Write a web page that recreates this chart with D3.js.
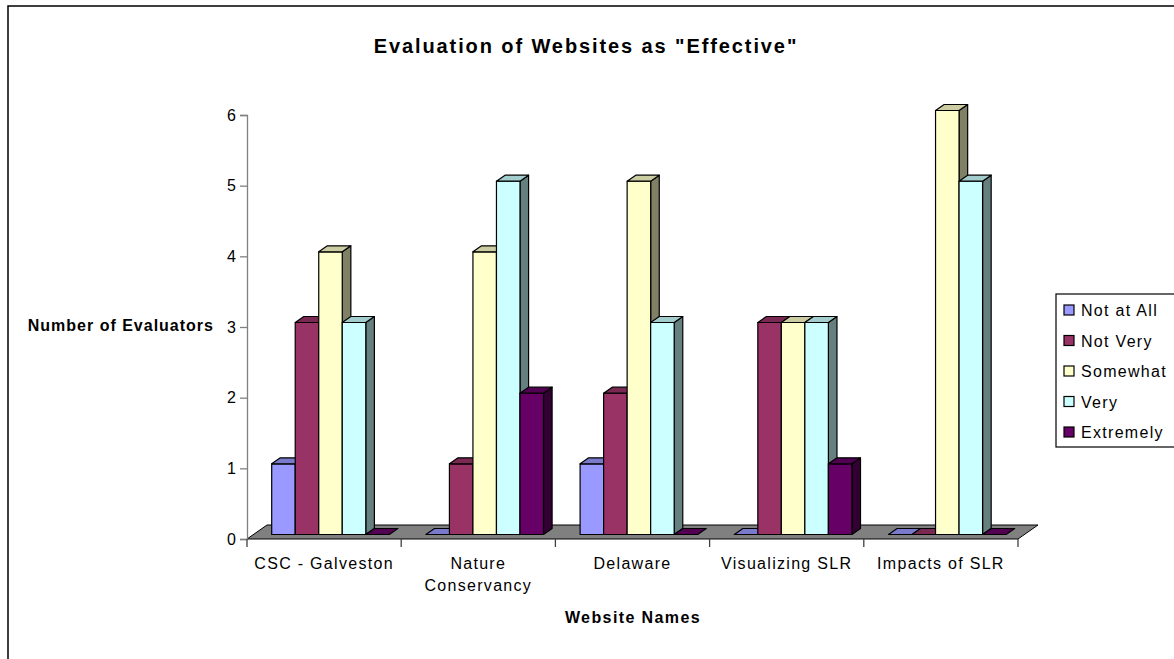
<!DOCTYPE html>
<html>
<head>
<meta charset="utf-8">
<script src="https://cdn.jsdelivr.net/npm/d3@7"></script>
<style>
  body { margin: 0; background: #fff; }
  svg { display: block; font-family: "Liberation Sans", Arial, sans-serif; }
</style>
</head>
<body>
<svg id="chart" width="1174" height="659"></svg>
<script>
// Websites rated, and the ratings given
const categories = ["CSC - Galveston", "Nature Conservancy", "Delaware", "Visualizing SLR", "Impacts of SLR"];
const categoryLines = [["CSC - Galveston"], ["Nature", "Conservancy"], ["Delaware"], ["Visualizing SLR"], ["Impacts of SLR"]];
const seriesNames = ["Not at All", "Not Very", "Somewhat", "Very", "Extremely"];
const seriesColors = ["#9999FF", "#993366", "#FFFFCC", "#CCFFFF", "#660066"];
// Evaluator counts per website, one array per rating level
const notAtAll  = [1, 0, 1, 0, 0];
const notVery   = [3, 1, 2, 3, 0];
const somewhat  = [4, 4, 5, 3, 6];
const very      = [3, 5, 3, 3, 5];
const extremely = [0, 2, 0, 1, 0];
const yTicks = [0, 1, 2, 3, 4, 5, 6];

const seriesValues = [notAtAll, notVery, somewhat, very, extremely];

const svg = d3.select("#chart");

// Outer chart border (runs off the right and bottom edges)
svg.append("rect")
  .attr("x", 8).attr("y", 6).attr("width", 1200).attr("height", 700)
  .attr("fill", "#fff").attr("stroke", "#000").attr("stroke-width", 1.5);

// Plot geometry
const x0 = 247, x1 = 1018, yBase = 539, yTop = 115;
const depthDx = 20, depthDy = -14;        // floor depth projection
const barFront = 0.32, barBack = 0.75;    // bar slab position within the depth

const x = d3.scaleBand().domain(categories).range([x0, x1]).padding(0);
const gap = 18.3;
const xs = d3.scaleBand().domain(seriesNames).range([gap, x.bandwidth() - gap]).padding(0);
const y = d3.scaleLinear().domain([0, 6]).range([yBase, yTop]);

const shade = (c, k) => {
  const r = d3.rgb(c);
  return d3.rgb(r.r * k, r.g * k, r.b * k).formatHex();
};

const LS = "1.3px";   // letter spacing used for the regular labels

// Floor
const floor = [[x0, yBase], [x1, yBase], [x1 + depthDx, yBase + depthDy], [x0 + depthDx, yBase + depthDy]];
svg.append("path")
  .attr("d", d3.line()(floor) + "Z")
  .attr("fill", "#808080").attr("stroke", "#000").attr("stroke-width", 1);

// Y axis
const yAxis = svg.append("g")
  .attr("transform", `translate(${x0},0)`)
  .call(d3.axisLeft(y).tickValues(yTicks).tickSize(7).tickPadding(4).tickFormat(d3.format("d")));
yAxis.select(".domain").attr("stroke", "#808080").attr("stroke-width", 1.3);
yAxis.selectAll(".tick line").attr("stroke", "#808080").attr("stroke-width", 1.3);
yAxis.selectAll(".tick text").attr("font-size", 16).attr("fill", "#000")
  .attr("font-family", "Liberation Sans, Arial, sans-serif");

// X axis: category boundary ticks along the floor's front edge
const bounds = categories.map(c => x(c)).concat([x1]);
svg.append("g").selectAll("line").data(bounds).join("line")
  .attr("x1", d => d).attr("x2", d => d)
  .attr("y1", yBase).attr("y2", yBase + 8)
  .attr("stroke", "#404040").attr("stroke-width", 1.3);

// Category labels
const catLabels = svg.append("g").selectAll("text").data(categories).join("text")
  .attr("x", d => x(d) + x.bandwidth() / 2)
  .attr("y", 569)
  .attr("text-anchor", "middle")
  .attr("font-size", 16)
  .attr("letter-spacing", LS)
  .attr("fill", "#000");
catLabels.each(function(d, i) {
  d3.select(this).selectAll("tspan").data(categoryLines[i]).join("tspan")
    .attr("x", x(d) + x.bandwidth() / 2)
    .attr("dy", (t, j) => j === 0 ? 0 : 22)
    .text(t => t);
});

// Bars, painted left to right so each front face covers its neighbour's side
const fdx = depthDx * barFront, fdy = depthDy * barFront;
const bdx = depthDx * (barBack - barFront), bdy = depthDy * (barBack - barFront);

const bars = [];
categories.forEach((c, ci) => {
  seriesNames.forEach((s, si) => {
    bars.push({ c, s, si, v: seriesValues[si][ci] });
  });
});

const gBars = svg.append("g");
bars.forEach(b => {
  const left = x(b.c) + xs(b.s) + fdx;
  const right = left + xs.bandwidth();
  const bottom = yBase + fdy;
  const top = y(b.v) + fdy;
  const col = seriesColors[b.si];
  const g = gBars.append("g").attr("stroke", "#000").attr("stroke-width", 1.2).attr("stroke-linejoin", "round");
  if (b.v > 0) {
    // side face
    g.append("path").attr("d", d3.line()([[right, bottom], [right + bdx, bottom + bdy], [right + bdx, top + bdy], [right, top]]) + "Z")
      .attr("fill", shade(col, 0.5));
    // front face
    g.append("rect").attr("x", left).attr("y", top).attr("width", right - left).attr("height", bottom - top)
      .attr("fill", col);
  }
  // top face (flat slab when the count is zero)
  g.append("path").attr("d", d3.line()([[left, top], [right, top], [right + bdx, top + bdy], [left + bdx, top + bdy]]) + "Z")
    .attr("fill", shade(col, 0.8));
});

// Titles
svg.append("text").attr("x", 586).attr("y", 53).attr("text-anchor", "middle")
  .attr("font-size", 20).attr("font-weight", "bold").attr("letter-spacing", "1.9px")
  .text('Evaluation of Websites as "Effective"');
svg.append("text").attr("x", 214).attr("y", 331).attr("text-anchor", "end")
  .attr("font-size", 16).attr("font-weight", "bold").attr("letter-spacing", "1px")
  .text("Number of Evaluators");
svg.append("text").attr("x", 633).attr("y", 623).attr("text-anchor", "middle")
  .attr("font-size", 16).attr("font-weight", "bold").attr("letter-spacing", "1.4px")
  .text("Website Names");

// Legend
const legend = svg.append("g");
legend.append("rect").attr("x", 1056).attr("y", 294).attr("width", 140).attr("height", 153)
  .attr("fill", "#fff").attr("stroke", "#000").attr("stroke-width", 1.2);
const items = legend.selectAll("g.item").data(seriesNames).join("g").attr("class", "item")
  .attr("transform", (d, i) => `translate(1064,${305 + i * 30.5})`);
items.append("rect").attr("width", 10).attr("height", 10)
  .attr("fill", (d, i) => seriesColors[i]).attr("stroke", "#000").attr("stroke-width", 1.2);
items.append("text").attr("x", 17).attr("y", 11).attr("font-size", 16).attr("letter-spacing", LS)
  .text(d => d);
</script>
</body>
</html>
